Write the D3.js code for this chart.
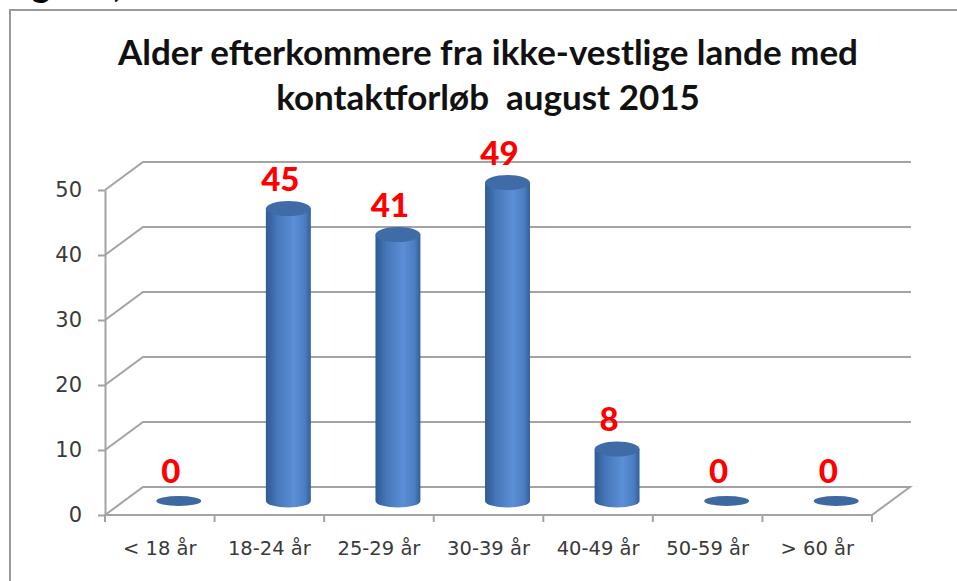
<!DOCTYPE html>
<html>
<head>
<meta charset="utf-8">
<script src="https://cdn.jsdelivr.net/npm/d3@7"></script>
<style>
body { margin: 0; background: #fff; }
svg { display: block; }
</style>
</head>
<body>
<script>
// chart data
var categories = ["< 18 år", "18-24 år", "25-29 år", "30-39 år", "40-49 år", "50-59 år", "> 60 år"];
var values = [0, 45, 41, 49, 8, 0, 0];
var yTicks = [0, 10, 20, 30, 40, 50];
var titleLines = ["Alder efterkommere fra ikke-vestlige lande med", "kontaktforløb  august 2015"];

var W = 957, H = 581,
	plot = {left: 105, right: 872, top: 190, bottom: 515},
	depth = {dx: 38, dy: -28};

var svg = d3.select("body").append("svg")
	.attr("width", W).attr("height", H);

var defs = svg.append("defs");
var grad = defs.append("linearGradient").attr("id", "cyl")
	.attr("x1", "0%").attr("x2", "100%").attr("y1", "0%").attr("y2", "0%");
grad.append("stop").attr("offset", "0%").attr("stop-color", "#2f5b93");
grad.append("stop").attr("offset", "25%").attr("stop-color", "#4677b9");
grad.append("stop").attr("offset", "62%").attr("stop-color", "#5b8fd6");
grad.append("stop").attr("offset", "88%").attr("stop-color", "#4a7cc0");
grad.append("stop").attr("offset", "100%").attr("stop-color", "#325e98");

// heading above the frame, cut by the top edge as in the reference
svg.append("text")
	.attr("x", 2).attr("y", -3)
	.attr("font-family", "Lato, sans-serif").attr("font-weight", "bold")
	.attr("font-size", "36px").attr("fill", "#000")
	.text("Figur 3, alder");

// frame
svg.append("rect")
	.attr("x", 10).attr("y", 10).attr("width", W + 20).attr("height", H + 20)
	.attr("fill", "none").attr("stroke", "#9a9a9a").attr("stroke-width", 2);

// title, fitted to the width of the reference
var title = svg.append("g");
var t1 = title.append("text")
	.attr("x", 488).attr("y", 65)
	.attr("text-anchor", "middle")
	.attr("font-family", "Lato, sans-serif").attr("font-weight", "bold")
	.attr("font-size", "32px").attr("fill", "#111")
	.text(titleLines[0]);
var fs = 32 * 740 / t1.node().getComputedTextLength();
t1.attr("font-size", fs + "px");
title.append("text")
	.attr("x", 488).attr("y", 110)
	.attr("text-anchor", "middle").attr("xml:space", "preserve")
	.attr("font-family", "Lato, sans-serif").attr("font-weight", "bold")
	.attr("font-size", fs + "px").attr("fill", "#111")
	.text(titleLines[1]);

var x = d3.scaleBand().domain(categories).range([plot.left, plot.right]).padding(0),
	y = d3.scaleLinear().domain([0, 50]).range([plot.bottom, plot.top]);

var gridColor = "#a3a3a3";

// gridlines on the back wall, with the slanted side piece
var grid = svg.append("g").attr("fill", "none").attr("stroke", gridColor).attr("stroke-width", 2);
yTicks.forEach(function(v) {
	if (v === 0) return;
	grid.append("path")
		.attr("d", "M" + plot.left + "," + y(v) +
			"L" + (plot.left + depth.dx) + "," + (y(v) + depth.dy) +
			"L" + (plot.right + depth.dx + 1) + "," + (y(v) + depth.dy));
});

// floor
grid.append("path")
	.attr("d", "M" + plot.left + "," + y(0) +
		"L" + (plot.left + depth.dx) + "," + (y(0) + depth.dy) +
		"L" + (plot.right + depth.dx) + "," + (y(0) + depth.dy) +
		"L" + plot.right + "," + y(0) + "Z");

// y axis
var yAxis = d3.axisLeft(y).tickValues(yTicks).tickSize(7).tickPadding(16).tickSizeOuter(0);
var yg = svg.append("g").attr("transform", "translate(" + plot.left + ",0)").call(yAxis);
yg.select(".domain").attr("stroke", gridColor).attr("stroke-width", 2);
yg.selectAll(".tick line").attr("stroke", gridColor).attr("stroke-width", 2);
yg.selectAll(".tick text")
	.attr("font-family", "DejaVu Sans, sans-serif").attr("font-size", "21px")
	.attr("fill", "#3a3a3a");

// x axis: labels at the band centres, ticks at the band edges
var xAxis = d3.axisBottom(x).tickSize(0).tickPadding(26);
var xg = svg.append("g").attr("transform", "translate(0," + plot.bottom + ")").call(xAxis);
xg.select(".domain").remove();
xg.selectAll(".tick text")
	.attr("font-family", "DejaVu Sans, sans-serif").attr("font-size", "19.5px")
	.attr("fill", "#3a3a3a");

var edges = categories.map(function(c) { return x(c); }).concat([plot.right]);
svg.append("g").selectAll("line").data(edges).enter().append("line")
	.attr("x1", function(d) { return d; }).attr("x2", function(d) { return d; })
	.attr("y1", plot.bottom).attr("y2", plot.bottom + 7)
	.attr("stroke", gridColor).attr("stroke-width", 2);
svg.append("line")
	.attr("x1", plot.left).attr("x2", plot.right)
	.attr("y1", plot.bottom).attr("y2", plot.bottom)
	.attr("stroke", gridColor).attr("stroke-width", 2);

// cylinders
var rx = x.bandwidth() * 0.205, ry = 6.5;
var data = categories.map(function(c, i) { return {cat: c, val: values[i]}; });

function cx(d) { return x(d.cat) + x.bandwidth() / 2 + depth.dx / 2; }
function baseY() { return y(0) + depth.dy / 2; }
function topY(d) { return y(d.val) + depth.dy / 2; }

var bars = svg.append("g").selectAll("g").data(data).enter().append("g");

bars.filter(function(d) { return d.val > 0; }).append("path")
	.attr("fill", "url(#cyl)")
	.attr("d", function(d) {
		var c = cx(d), t = topY(d), b = baseY();
		return "M" + (c - rx) + "," + t + "L" + (c - rx) + "," + b +
			"A" + rx + "," + ry + " 0 0 0 " + (c + rx) + "," + b +
			"L" + (c + rx) + "," + t + "Z";
	});

bars.append("ellipse")
	.attr("cx", cx)
	.attr("cy", function(d) { return d.val > 0 ? topY(d) : baseY(); })
	.attr("rx", rx)
	.attr("ry", function(d) { return d.val > 0 ? ry + 1 : ry - 1.5; })
	.attr("fill", function(d) { return d.val > 0 ? "#3f6ca7" : "#3d68a0"; });

// value labels
bars.append("text")
	.attr("x", function(d) { return cx(d) - 8; })
	.attr("y", function(d) { return topY(d) - 18; })
	.attr("text-anchor", "middle")
	.attr("font-family", "Lato, sans-serif").attr("font-weight", "900")
	.attr("font-size", "33px").attr("fill", "#ff0000")
	.text(function(d) { return d.val; });
</script>
</body>
</html>
